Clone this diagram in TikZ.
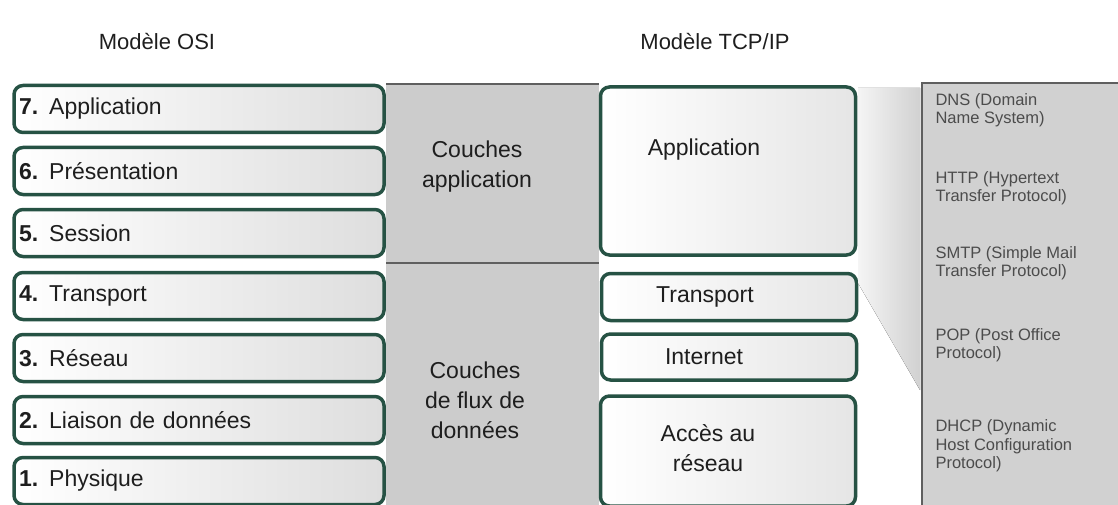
\documentclass[tikz,border=0pt]{standalone}
\usepackage{fontspec}
\setmainfont{Liberation Sans}
\definecolor{boxline}{RGB}{38,82,68}
\definecolor{textgray}{RGB}{30,30,30}
\definecolor{panelline}{RGB}{95,95,95}
\newcommand{\layernum}[1]{\textbf{#1.}\hspace{11pt}}
\begin{document}
\begin{tikzpicture}[x=1pt, y=-1pt,
    osibox/.style={draw=boxline, line width=3.5pt, rounded corners=9pt, left color=white, right color=black!13,
        minimum width=370pt, minimum height=47pt, text width=360pt, inner xsep=5pt, align=left,
        font=\fontsize{23}{26}\selectfont, text=textgray},
    tcpbox/.style={draw=boxline, line width=3.5pt, rounded corners=9pt, left color=white, right color=black!10,
        minimum width=255pt},
    tcptxt/.style={font=\fontsize{23}{30}\selectfont, text=textgray, align=center},
    groupbox/.style={font=\fontsize{23}{30}\selectfont, text=textgray, align=center},
    prototxt/.style={anchor=west, align=left, font=\fontsize{16.5}{18.5}\selectfont, text=black!70},
    titletxt/.style={font=\fontsize{22}{24}\selectfont, text=textgray}]
    \useasboundingbox (0,0) rectangle (1118,505);

    % --- Titles ---
    \node[titletxt] (osititle) at (157,42) {Modèle OSI};
    \node[titletxt] (tcptitle) at (715,42) {Modèle TCP/IP};

    % --- Middle band (groups of layers) ---
    \fill[black!20] (386,84) rectangle (599,505);
    \draw[panelline, line width=1.5pt] (386,84) -- (599,84);
    \draw[panelline, line width=1.5pt] (386,263) -- (599,263);
    \node[groupbox] (grpapp) at (477,167) {Couches\\application};
    \node[groupbox] (grpflux) at (475,400) {Couches\\de flux de\\données};

    % --- OSI layers ---
    \node[osibox] (osi7) at (199,109) {\layernum{7}Application};
    \node[osibox] (osi6) at (199,171) {\layernum{6}Présentation};
    \node[osibox] (osi5) at (199,233) {\layernum{5}Session};
    \node[osibox] (osi4) at (199,296) {\layernum{4}Transport};
    \node[osibox] (osi3) at (199,358) {\layernum{3}Réseau};
    \node[osibox] (osi2) at (199,420) {\layernum{2}Liaison de données};
    \node[osibox] (osi1) at (199,481) {\layernum{1}Physique};

    % --- TCP/IP layers ---
    \node[tcpbox, minimum height=168pt, label={[tcptxt, xshift=-24pt, yshift=21pt]center:Application}] (tapp) at (728,171) {};
    \node[tcpbox, minimum height=47pt, label={[tcptxt, xshift=-24pt]center:Transport}] (ttrans) at (729,297) {};
    \node[tcpbox, minimum height=46pt, label={[tcptxt, xshift=-25pt]center:Internet}] (tnet) at (729,357) {};
    \node[tcpbox, minimum height=110pt, label={[tcptxt, xshift=-20pt, yshift=3pt]center:{Accès au\\réseau}}] (tacc) at (728,451) {};

    % --- Wedge towards the protocols ---
    \fill[left color=black!4, right color=black!18] (858,88) -- (920,88) -- (920,390) -- (858,283) -- cycle;

    % --- Protocols panel ---
    \fill[black!18] (922,83) rectangle (1118,505);
    \draw[panelline, line width=2pt] (922,505) -- (922,83) -- (1118,83);
    \node[prototxt] (dns) at (932,110) {DNS (Domain\\Name System)};
    \node[prototxt] (http) at (932,188) {HTTP (Hypertext\\Transfer Protocol)};
    \node[prototxt] (smtp) at (932,263) {SMTP (Simple Mail\\Transfer Protocol)};
    \node[prototxt] (pop) at (932,345) {POP (Post Office\\Protocol)};
    \node[prototxt] (dhcp) at (932,446) {DHCP (Dynamic\\Host Configuration\\Protocol)};
\end{tikzpicture}
\end{document}
